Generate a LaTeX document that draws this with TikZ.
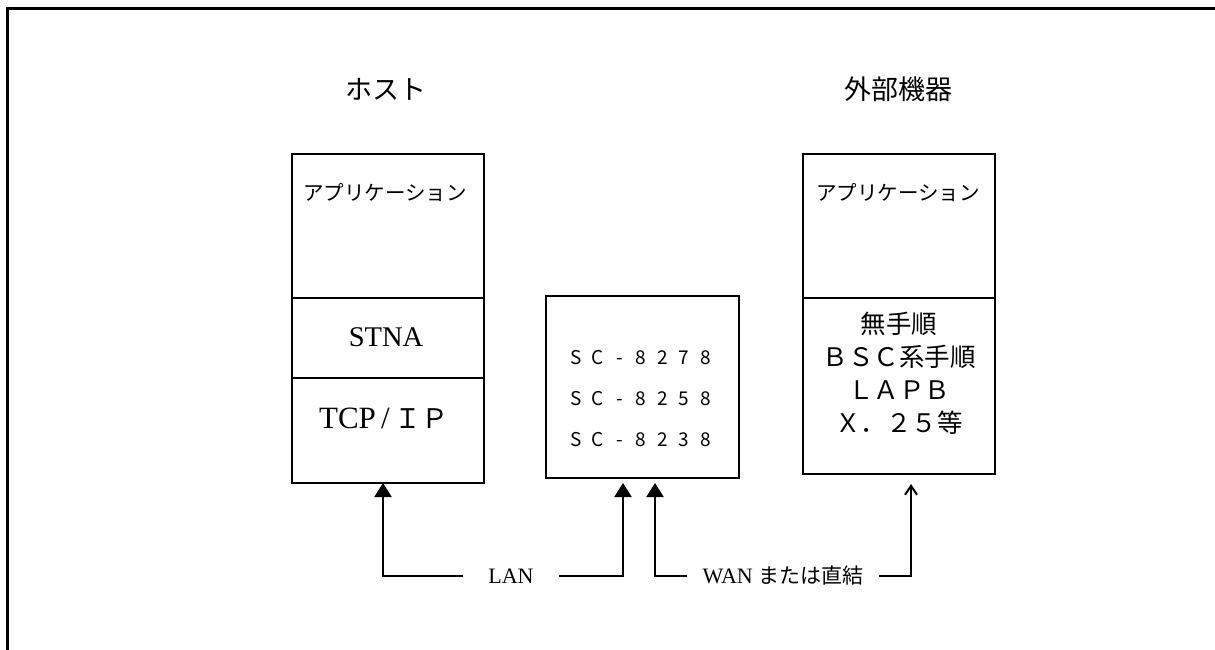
\documentclass[tikz,border=0pt]{standalone}
\usepackage{fontspec}
\setmainfont{Liberation Serif}
\newfontfamily\cjk{Noto Sans CJK JP}
\usetikzlibrary{arrows.meta}
\newcommand\sbx[1]{\makebox[21.5pt][c]{#1}}
\tikzset{
  box/.style={draw, line width=2pt, minimum width=192pt, inner sep=0pt, anchor=north west},
  lbl/.style={inner sep=0pt},
  conn/.style={line width=2pt},
  fillarrow/.style={conn, -{Triangle[width=17pt,length=14pt]}},
  openarrow/.style={conn, -{Straight Barb[width=12pt,length=9pt,line width=2pt]}},
}
\begin{document}
\begin{tikzpicture}[x=1pt,y=-1pt]
\useasboundingbox (0,0) rectangle (1215,650);
% frame
\draw[line width=3pt] (7,650) -- (7,9) -- (1215,9);
% titles
\node[lbl, font=\cjk\fontsize{27}{30}\selectfont] (thost) at (386,89) {ホスト};
\node[lbl, font=\cjk\fontsize{27}{30}\selectfont] (tdev) at (898,89) {外部機器};
% host stack
\node[box, minimum height=144pt] (happ) at (291,153) {};
\node[box, minimum height=80pt] (hstna) at (291,297) {};
\node[box, minimum height=105pt] (hip) at (291,377) {};
\node[lbl, font=\cjk\fontsize{20.5}{24}\selectfont] (happt) at (385,193) {アプリケーション};
\node[lbl, font=\fontsize{28.5}{30}\selectfont] (hstnat) at (386,337) {STNA};
\node[lbl, font=\fontsize{31}{32}\selectfont] (hipt) at (384,418) {TCP\,/\,{\cjk\fontsize{27}{30}\selectfont ＩＰ}};
% middle box
\node[box, minimum height=182pt, minimum width=193pt] (mid) at (545,295) {};
\node[lbl, font=\cjk\fontsize{19}{20}\selectfont] (sc1) at (641,358) {\sbx{S}\sbx{C}\sbx{-}\sbx{8}\sbx{2}\sbx{7}\sbx{8}};
\node[lbl, font=\cjk\fontsize{19}{20}\selectfont] (sc2) at (641,399) {\sbx{S}\sbx{C}\sbx{-}\sbx{8}\sbx{2}\sbx{5}\sbx{8}};
\node[lbl, font=\cjk\fontsize{19}{20}\selectfont] (sc3) at (641,440) {\sbx{S}\sbx{C}\sbx{-}\sbx{8}\sbx{2}\sbx{3}\sbx{8}};
% device stack
\node[box, minimum height=144pt] (dapp) at (802,153) {};
\node[box, minimum height=176pt] (dproto) at (802,297) {};
\node[lbl, font=\cjk\fontsize{20.5}{24}\selectfont] (dappt) at (898,193) {アプリケーション};
\node[lbl, align=center, font=\cjk\fontsize{25.5}{33}\selectfont] (dprotot) at (899,373) {無手順\\ＢＳＣ系手順\\ＬＡＰＢ\\Ｘ．２５等};
% connectors
\coordinate (hostin) at (383,483);
\coordinate (lanA) at (463,576);
\coordinate (lanB) at (559,576);
\coordinate (midin1) at (623,483);
\coordinate (midin2) at (655,483);
\coordinate (wanA) at (687,576);
\coordinate (wanB) at (879,576);
\coordinate (devin) at (911,484);
\node[lbl, font=\fontsize{22}{26}\selectfont] (lan) at (511,576) {LAN};
\node[lbl, font=\fontsize{22}{26}\selectfont] (wan) at (783,576) {WAN {\cjk\fontsize{21}{26}\selectfont または直結}};
\draw[fillarrow] (lanA) -- (hostin |- lanA) -- (hostin);
\draw[fillarrow] (lanB) -- (midin1 |- lanB) -- (midin1);
\draw[fillarrow] (wanA) -- (midin2 |- wanA) -- (midin2);
\draw[openarrow] (wanB) -- (devin |- wanB) -- (devin);
\end{tikzpicture}
\end{document}
